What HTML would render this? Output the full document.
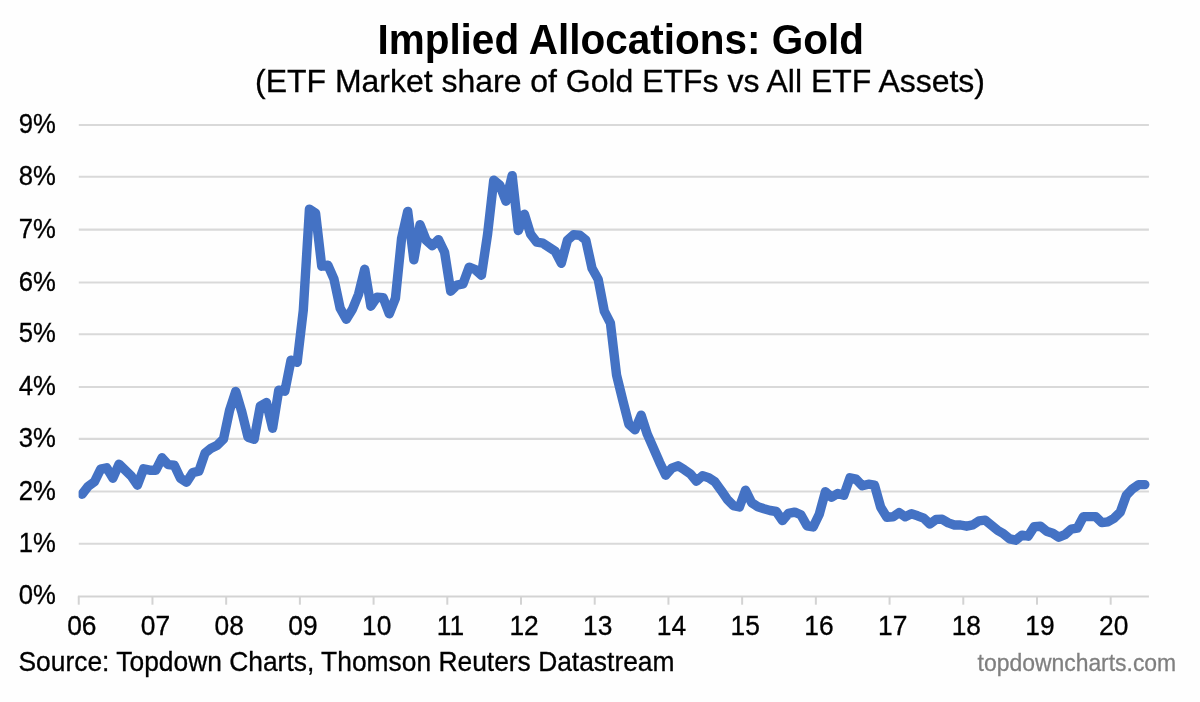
<!DOCTYPE html>
<html lang="en">
<head>
<meta charset="utf-8">
<title>Implied Allocations: Gold</title>
<style>
html,body{margin:0;padding:0;background:#fefefe;}
body{width:1200px;height:702px;overflow:hidden;}
svg{display:block;font-family:"Liberation Sans",sans-serif;}
.grid line{stroke:#d9d9d9;stroke-width:2.1;}
.axis line{stroke:#d3d3d3;stroke-width:2.0;}
.lab text{fill:#000;stroke:#000;stroke-width:0.3;}
.rt{stroke-width:0.3;}
</style>
</head>
<body>
<svg width="1200" height="702" viewBox="0 0 1200 702">
<rect x="0" y="0" width="1200" height="702" fill="#fefefe"/>
<text id="title" transform="translate(377.40,53.80) scale(1,1.035)" font-size="41" textLength="486.60" lengthAdjust="spacingAndGlyphs" font-weight="bold" fill="#000">Implied Allocations: Gold</text>
<text id="sub" transform="translate(255.00,92.10) scale(1,1.035)" font-size="31" textLength="730.00" lengthAdjust="spacingAndGlyphs" class="rt" fill="#000" stroke="#000">(ETF Market share of Gold ETFs vs All ETF Assets)</text>
<g class="grid">
<line x1="78.8" x2="1148.9" y1="543.70" y2="543.70"/>
<line x1="78.8" x2="1148.9" y1="491.55" y2="491.55"/>
<line x1="78.8" x2="1148.9" y1="438.90" y2="438.90"/>
<line x1="78.8" x2="1148.9" y1="387.05" y2="387.05"/>
<line x1="78.8" x2="1148.9" y1="334.25" y2="334.25"/>
<line x1="78.8" x2="1148.9" y1="282.50" y2="282.50"/>
<line x1="78.8" x2="1148.9" y1="229.60" y2="229.60"/>
<line x1="78.8" x2="1148.9" y1="176.80" y2="176.80"/>
<line x1="78.8" x2="1148.9" y1="124.95" y2="124.95"/>
</g>
<g class="axis">
<line x1="77.9" x2="1148.9" y1="596.40" y2="596.40"/>
<line x1="78.75" x2="78.75" y1="596.40" y2="604.70"/>
<line x1="152.46" x2="152.46" y1="596.40" y2="604.70"/>
<line x1="226.17" x2="226.17" y1="596.40" y2="604.70"/>
<line x1="299.88" x2="299.88" y1="596.40" y2="604.70"/>
<line x1="373.59" x2="373.59" y1="596.40" y2="604.70"/>
<line x1="447.30" x2="447.30" y1="596.40" y2="604.70"/>
<line x1="521.01" x2="521.01" y1="596.40" y2="604.70"/>
<line x1="594.72" x2="594.72" y1="596.40" y2="604.70"/>
<line x1="668.43" x2="668.43" y1="596.40" y2="604.70"/>
<line x1="742.14" x2="742.14" y1="596.40" y2="604.70"/>
<line x1="815.85" x2="815.85" y1="596.40" y2="604.70"/>
<line x1="889.56" x2="889.56" y1="596.40" y2="604.70"/>
<line x1="963.27" x2="963.27" y1="596.40" y2="604.70"/>
<line x1="1036.98" x2="1036.98" y1="596.40" y2="604.70"/>
<line x1="1110.69" x2="1110.69" y1="596.40" y2="604.70"/>
</g>
<g class="lab">
<text transform="translate(55.8,604.40) scale(1,1.045)" font-size="25.7" text-anchor="end">0%</text>
<text transform="translate(55.8,551.70) scale(1,1.045)" font-size="25.7" text-anchor="end">1%</text>
<text transform="translate(55.8,499.55) scale(1,1.045)" font-size="25.7" text-anchor="end">2%</text>
<text transform="translate(55.8,446.90) scale(1,1.045)" font-size="25.7" text-anchor="end">3%</text>
<text transform="translate(55.8,395.05) scale(1,1.045)" font-size="25.7" text-anchor="end">4%</text>
<text transform="translate(55.8,342.25) scale(1,1.045)" font-size="25.7" text-anchor="end">5%</text>
<text transform="translate(55.8,290.50) scale(1,1.045)" font-size="25.7" text-anchor="end">6%</text>
<text transform="translate(55.8,237.60) scale(1,1.045)" font-size="25.7" text-anchor="end">7%</text>
<text transform="translate(55.8,184.80) scale(1,1.045)" font-size="25.7" text-anchor="end">8%</text>
<text transform="translate(55.8,132.95) scale(1,1.045)" font-size="25.7" text-anchor="end">9%</text>
<text transform="translate(81.82,634.8) scale(1,1.035)" font-size="26.4" text-anchor="middle">06</text>
<text transform="translate(155.53,634.8) scale(1,1.035)" font-size="26.4" text-anchor="middle">07</text>
<text transform="translate(229.24,634.8) scale(1,1.035)" font-size="26.4" text-anchor="middle">08</text>
<text transform="translate(302.95,634.8) scale(1,1.035)" font-size="26.4" text-anchor="middle">09</text>
<text transform="translate(376.66,634.8) scale(1,1.035)" font-size="26.4" text-anchor="middle">10</text>
<text transform="translate(450.37,634.8) scale(1,1.035)" font-size="26.4" text-anchor="middle">11</text>
<text transform="translate(524.08,634.8) scale(1,1.035)" font-size="26.4" text-anchor="middle">12</text>
<text transform="translate(597.79,634.8) scale(1,1.035)" font-size="26.4" text-anchor="middle">13</text>
<text transform="translate(671.50,634.8) scale(1,1.035)" font-size="26.4" text-anchor="middle">14</text>
<text transform="translate(745.21,634.8) scale(1,1.035)" font-size="26.4" text-anchor="middle">15</text>
<text transform="translate(818.92,634.8) scale(1,1.035)" font-size="26.4" text-anchor="middle">16</text>
<text transform="translate(892.63,634.8) scale(1,1.035)" font-size="26.4" text-anchor="middle">17</text>
<text transform="translate(966.34,634.8) scale(1,1.035)" font-size="26.4" text-anchor="middle">18</text>
<text transform="translate(1040.05,634.8) scale(1,1.035)" font-size="26.4" text-anchor="middle">19</text>
<text transform="translate(1113.76,634.8) scale(1,1.035)" font-size="26.4" text-anchor="middle">20</text>
</g>
<clipPath id="plotclip"><rect x="78.6" y="100" width="1090" height="520"/></clipPath>
<polyline id="series" clip-path="url(#plotclip)" fill="none" stroke="#4472c4" stroke-width="9.4" stroke-linejoin="round" stroke-linecap="round" points="82.17,494.2 88.31,486.2 94.46,481.8 100.60,469.2 106.74,467.8 112.88,478.2 119.03,464.2 125.17,470.2 131.31,476.2 137.45,485.2 143.60,468.8 149.74,470.2 155.88,470.2 162.02,457.8 168.17,464.6 174.31,465.2 180.45,478.2 186.59,482.2 192.74,472.6 198.88,471.2 205.02,453.2 211.16,448.2 217.31,445.2 223.45,439.2 229.59,410.2 235.73,391.4 241.88,412.2 248.02,437.2 254.16,439.2 260.30,406.0 266.45,402.5 272.59,428.2 278.73,390.2 284.87,391.2 291.02,360.2 297.16,362.2 303.30,310.2 309.44,209.1 315.59,213.2 321.73,266.2 327.87,265.2 334.01,279.2 340.16,308.2 346.30,319.2 352.44,309.2 358.58,294.2 364.73,269.2 370.87,306.2 377.01,297.2 383.15,297.6 389.30,313.8 395.44,298.2 401.58,238.2 407.72,211.4 413.87,259.8 420.01,224.7 426.15,240.2 432.29,245.8 438.44,239.6 444.58,252.2 450.72,291.2 456.86,285.2 463.01,283.8 469.15,267.2 475.29,269.7 481.43,275.2 487.58,234.2 493.72,180.2 499.86,185.2 506.00,201.2 512.15,175.6 518.29,230.6 524.43,214.2 530.57,234.2 536.72,242.2 542.86,243.2 549.00,247.2 555.14,251.2 561.29,263.2 567.43,240.2 573.57,234.8 579.71,235.2 585.86,240.2 592.00,268.2 598.14,279.2 604.28,311.2 610.43,323.2 616.57,375.2 622.71,400.2 628.85,424.2 635.00,429.8 641.14,415.2 647.28,434.2 653.42,448.2 659.57,462.2 665.71,475.2 671.85,468.2 677.99,465.8 684.14,469.6 690.28,473.8 696.42,481.2 702.56,475.8 708.71,477.8 714.85,481.8 720.99,490.2 727.13,499.2 733.28,505.6 739.42,507.0 745.56,490.2 751.70,502.7 757.85,506.7 763.99,508.7 770.13,510.5 776.27,511.5 782.42,520.6 788.56,513.4 794.70,512.1 800.84,514.8 806.99,525.8 813.13,527.0 819.27,514.2 825.41,491.7 831.56,497.2 837.70,493.5 843.84,495.2 849.98,477.8 856.13,479.2 862.27,485.8 868.41,484.2 874.55,485.2 880.70,507.2 886.84,517.2 892.98,516.8 899.12,512.6 905.27,516.8 911.41,513.8 917.55,515.8 923.69,518.2 929.84,524.0 935.98,519.4 942.12,519.2 948.26,522.9 954.41,525.0 960.55,525.0 966.69,526.2 972.83,524.9 978.98,520.9 985.12,520.2 991.26,525.2 997.40,530.2 1003.55,533.8 1009.69,538.8 1015.83,540.2 1021.97,535.2 1028.12,536.2 1034.26,526.6 1040.40,526.2 1046.54,531.2 1052.69,533.2 1058.83,537.2 1064.97,534.6 1071.11,529.2 1077.26,528.2 1083.40,516.6 1089.54,516.6 1095.68,516.6 1101.83,522.6 1107.97,521.8 1114.11,518.2 1120.25,512.2 1126.40,495.2 1132.54,488.8 1138.68,484.6 1144.82,484.6"/>
<text id="src" transform="translate(18.50,670.70) scale(1,1.035)" font-size="26.4" textLength="656.00" lengthAdjust="spacingAndGlyphs" class="rt" fill="#000" stroke="#000">Source: Topdown Charts, Thomson Reuters Datastream</text>
<text id="site" transform="translate(977.60,670.90) scale(1,1.0)" font-size="24.4" textLength="198.60" lengthAdjust="spacingAndGlyphs" class="rt" fill="#7f7f7f" stroke="#7f7f7f">topdowncharts.com</text>
</svg>
</body>
</html>
